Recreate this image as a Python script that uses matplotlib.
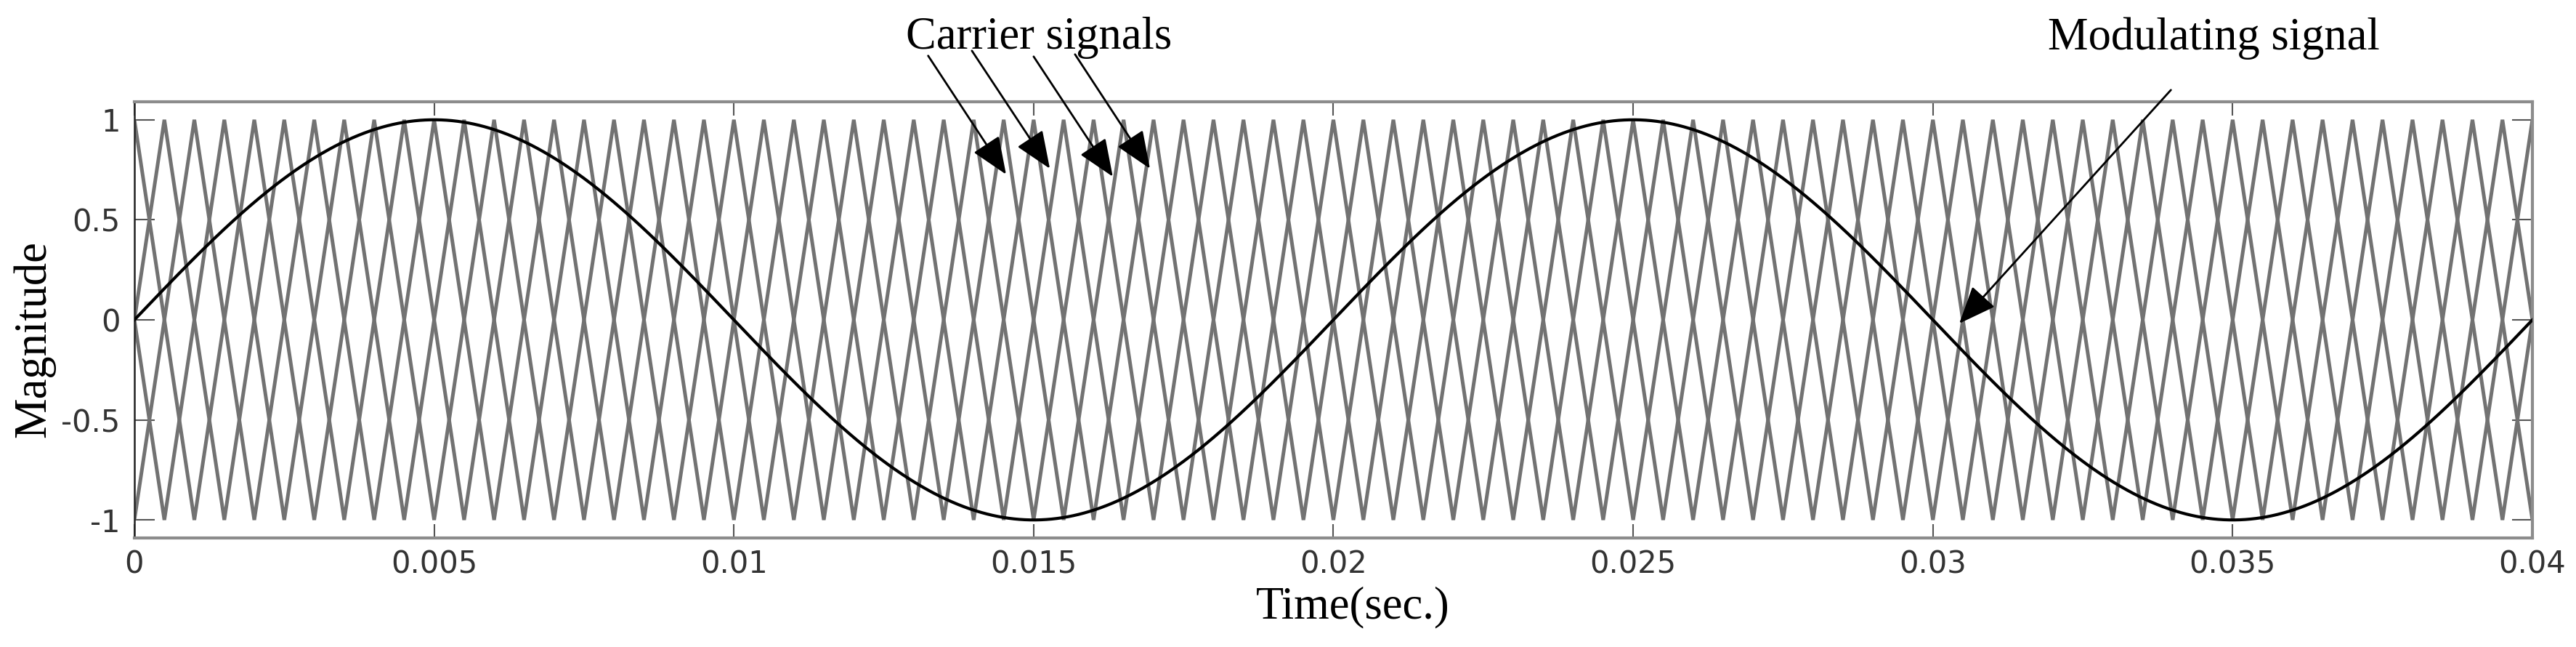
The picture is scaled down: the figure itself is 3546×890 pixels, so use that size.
import numpy as np
import matplotlib
matplotlib.use("Agg")
import matplotlib.pyplot as plt

plt.rcParams['axes.unicode_minus'] = False

# signal parameters
T_END = 0.04
MOD_FREQ = 50.0            # modulating sine, Hz
MOD_AMP = 1.0
CARRIER_PERIOD = 0.002     # each triangular carrier, s
CARRIER_SHIFTS = [0.0, 0.0005, 0.001, 0.0015]   # phase-shifted carriers
CARRIER_AMP = 1.0

x_ticks = [0, 0.005, 0.01, 0.015, 0.02, 0.025, 0.03, 0.035, 0.04]
x_tick_labels = ['0', '0.005', '0.01', '0.015', '0.02', '0.025', '0.03', '0.035', '0.04']
y_ticks = [-1, -0.5, 0, 0.5, 1]
y_tick_labels = ['-1', '-0.5', '0', '0.5', '1']

# annotation arrows (data coords): text anchor, arrow tails, arrow tips
carrier_text = (0.01509, 1.356)
carrier_tails = [(0.01324, 1.32), (0.01397, 1.345), (0.01500, 1.316), (0.01569, 1.327)]
carrier_tips = [(0.01454, 0.727), (0.01527, 0.756), (0.01632, 0.716), (0.01694, 0.756)]
mod_text = (0.03469, 1.353)
mod_tail = (0.03397, 1.149)
mod_tip = (0.03044, -0.018)

SERIF = ['Liberation Serif', 'DejaVu Serif']
SANS = ['DejaVu Sans']


def triangle_vertices(shift):
    # peak/trough corners of one triangular carrier over the window
    half = CARRIER_PERIOD / 2
    k0 = int(np.floor((0 - shift) / half)) - 1
    k1 = int(np.ceil((T_END - shift) / half)) + 1
    k = np.arange(k0, k1 + 1)
    t = shift + k * half
    v = np.where(k % 2 == 0, CARRIER_AMP, -CARRIER_AMP)
    return t, v


fig = plt.figure(figsize=(35.46, 8.9), dpi=100)
ax = fig.add_axes([0.05217, 0.16854, 0.93091, 0.67416])

for s in CARRIER_SHIFTS:
    tc, vc = triangle_vertices(s)
    ax.plot(tc, vc, color='#727272', lw=3.6, solid_joinstyle='miter', zorder=2)

t = np.linspace(0, T_END, 4001)
ax.plot(t, MOD_AMP * np.sin(2 * np.pi * MOD_FREQ * t), color='black', lw=3.0, zorder=3)

ax.set_xlim(0, T_END)
ax.set_ylim(-1.09, 1.09)
ax.set_xticks(x_ticks)
ax.set_xticklabels(x_tick_labels)
ax.set_yticks(y_ticks)
ax.set_yticklabels(y_tick_labels)

ax.tick_params(axis='x', direction='in', length=14, width=1.5, color='#555555',
               top=True, pad=11, labelsize=30, labelcolor='#333333')
ax.tick_params(axis='y', direction='in', length=20, width=1.5, color='#555555',
               right=True, pad=14, labelsize=30, labelcolor='#333333')
for lab in ax.get_xticklabels() + ax.get_yticklabels():
    lab.set_family(SANS)

for side in ['top', 'bottom', 'right']:
    ax.spines[side].set_color('#8c8c8c')
    ax.spines[side].set_linewidth(3)
ax.spines['left'].set_color('#222222')
ax.spines['left'].set_linewidth(1.8)

ax.set_xlabel('Time(sec.)', family=SERIF, fontsize=45, labelpad=6)
ax.xaxis.set_label_coords(0.508, -0.11)
ax.xaxis.label.set_va('top')
fig.text(0.0133, 0.476, 'Magnitude', family=SERIF, fontsize=45,
         rotation=90, ha='center', va='center')

arrow_kw = dict(arrowstyle='-|>,head_length=0.8,head_width=0.33', mutation_scale=40,
                color='black', lw=2, shrinkA=0, shrinkB=0)
ax.text(carrier_text[0], carrier_text[1], 'Carrier signals', family=SERIF, fontsize=45,
        ha='center', va='baseline', clip_on=False)
for tail, tip in zip(carrier_tails, carrier_tips):
    ax.annotate('', xy=tip, xytext=tail, arrowprops=arrow_kw, annotation_clip=False)

ax.text(mod_text[0], mod_text[1], 'Modulating signal', family=SERIF, fontsize=45,
        ha='center', va='baseline', clip_on=False)
ax.annotate('', xy=mod_tip, xytext=mod_tail, arrowprops=arrow_kw, annotation_clip=False)

fig.savefig('out.png', dpi=100)
